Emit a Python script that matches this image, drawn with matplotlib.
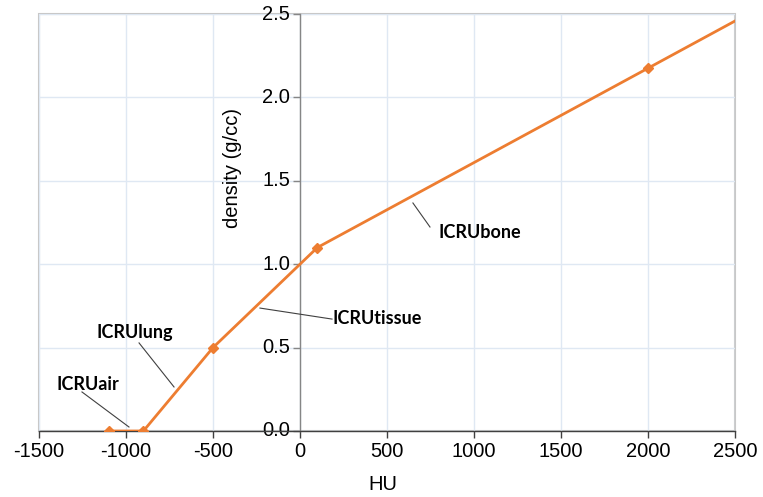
import matplotlib
matplotlib.use("Agg")
import matplotlib.pyplot as plt
from matplotlib.patches import Rectangle
import numpy as np

# Data
hu = [-1100, -900, -500, 100, 2000, 2500]
density = [0.0, 0.0, 0.5, 1.1, 2.175, 2.458]
marker_idx = [0, 1, 2, 3, 4]

x_ticks = [-1500, -1000, -500, 0, 500, 1000, 1500, 2000, 2500]
y_ticks = [0.0, 0.5, 1.0, 1.5, 2.0, 2.5]

labels = ["ICRUair", "ICRUlung", "ICRUtissue", "ICRUbone"]
label_pos = [(-1218, 0.276), (-948, 0.588), (445, 0.677), (1035, 1.193)]
leader_start = [(-1253, 0.234), (-925, 0.528), (184, 0.671), (747, 1.223)]
leader_end = [(-983, 0.024), (-724, 0.264), (-230, 0.737), (649, 1.367)]

plt.rcParams['font.family'] = ['Liberation Sans', 'DejaVu Sans']

W, H = 763, 497
fig = plt.figure(figsize=(W / 100, H / 100), dpi=100)
ax = fig.add_axes([39 / W, (H - 431) / H, 696 / W, 417 / H])

ax.set_xlim(-1500, 2500)
ax.set_ylim(0, 2.5)

grid_c = '#dfe8f3'
ax.set_xticks(x_ticks)
ax.set_yticks(y_ticks)
ax.grid(True, color=grid_c, lw=1.0)
ax.set_axisbelow(True)

for s in ['top', 'right']:
    ax.spines[s].set_visible(False)
ax.spines['left'].set_position(('data', 0))
ax.spines['left'].set_color('#868686')
ax.spines['left'].set_linewidth(1.0)
ax.spines['bottom'].set_color('#404040')
ax.spines['bottom'].set_linewidth(1.0)
ax.spines['bottom'].set_zorder(3)

ax.add_patch(Rectangle((0, 0), 1, 1, transform=ax.transAxes, fill=False,
                       edgecolor='#c8c8c8', lw=1.5, clip_on=False, zorder=0.5))

ax.tick_params(axis='x', direction='out', length=5, width=1, color='#404040',
               labelsize=14.5, pad=3)
ax.tick_params(axis='y', direction='out', length=5, width=1, color='#868686',
               labelsize=14.5, pad=2)
ax.set_yticklabels([f"{v:.1f}" for v in y_ticks])
ax.set_xticklabels([str(v) for v in x_ticks])
for t in ax.get_yticklabels():
    t.set_verticalalignment('center')

ax.plot(hu, density, color='#ED7D31', lw=2.0, marker='D', markersize=5.5,
        markevery=marker_idx, zorder=4, clip_on=True)

for name, (tx, ty), (sx, sy), (ex, ey) in zip(labels, label_pos, leader_start, leader_end):
    ax.plot([sx, ex], [sy, ey], color='#404040', lw=0.8, zorder=3)
    ax.text(tx, ty, name, ha='center', va='center', fontsize=13,
            fontweight='bold', family=['Lato', 'DejaVu Sans'], color='black', zorder=5)

fig.text(383 / W, 1 - 485 / H, "HU", ha='center', va='center', fontsize=14.5)
fig.text(232 / W, 1 - 168 / H, "density (g/cc)", ha='center', va='center',
         rotation=90, fontsize=14.5)

fig.savefig("out.png", dpi=100)
